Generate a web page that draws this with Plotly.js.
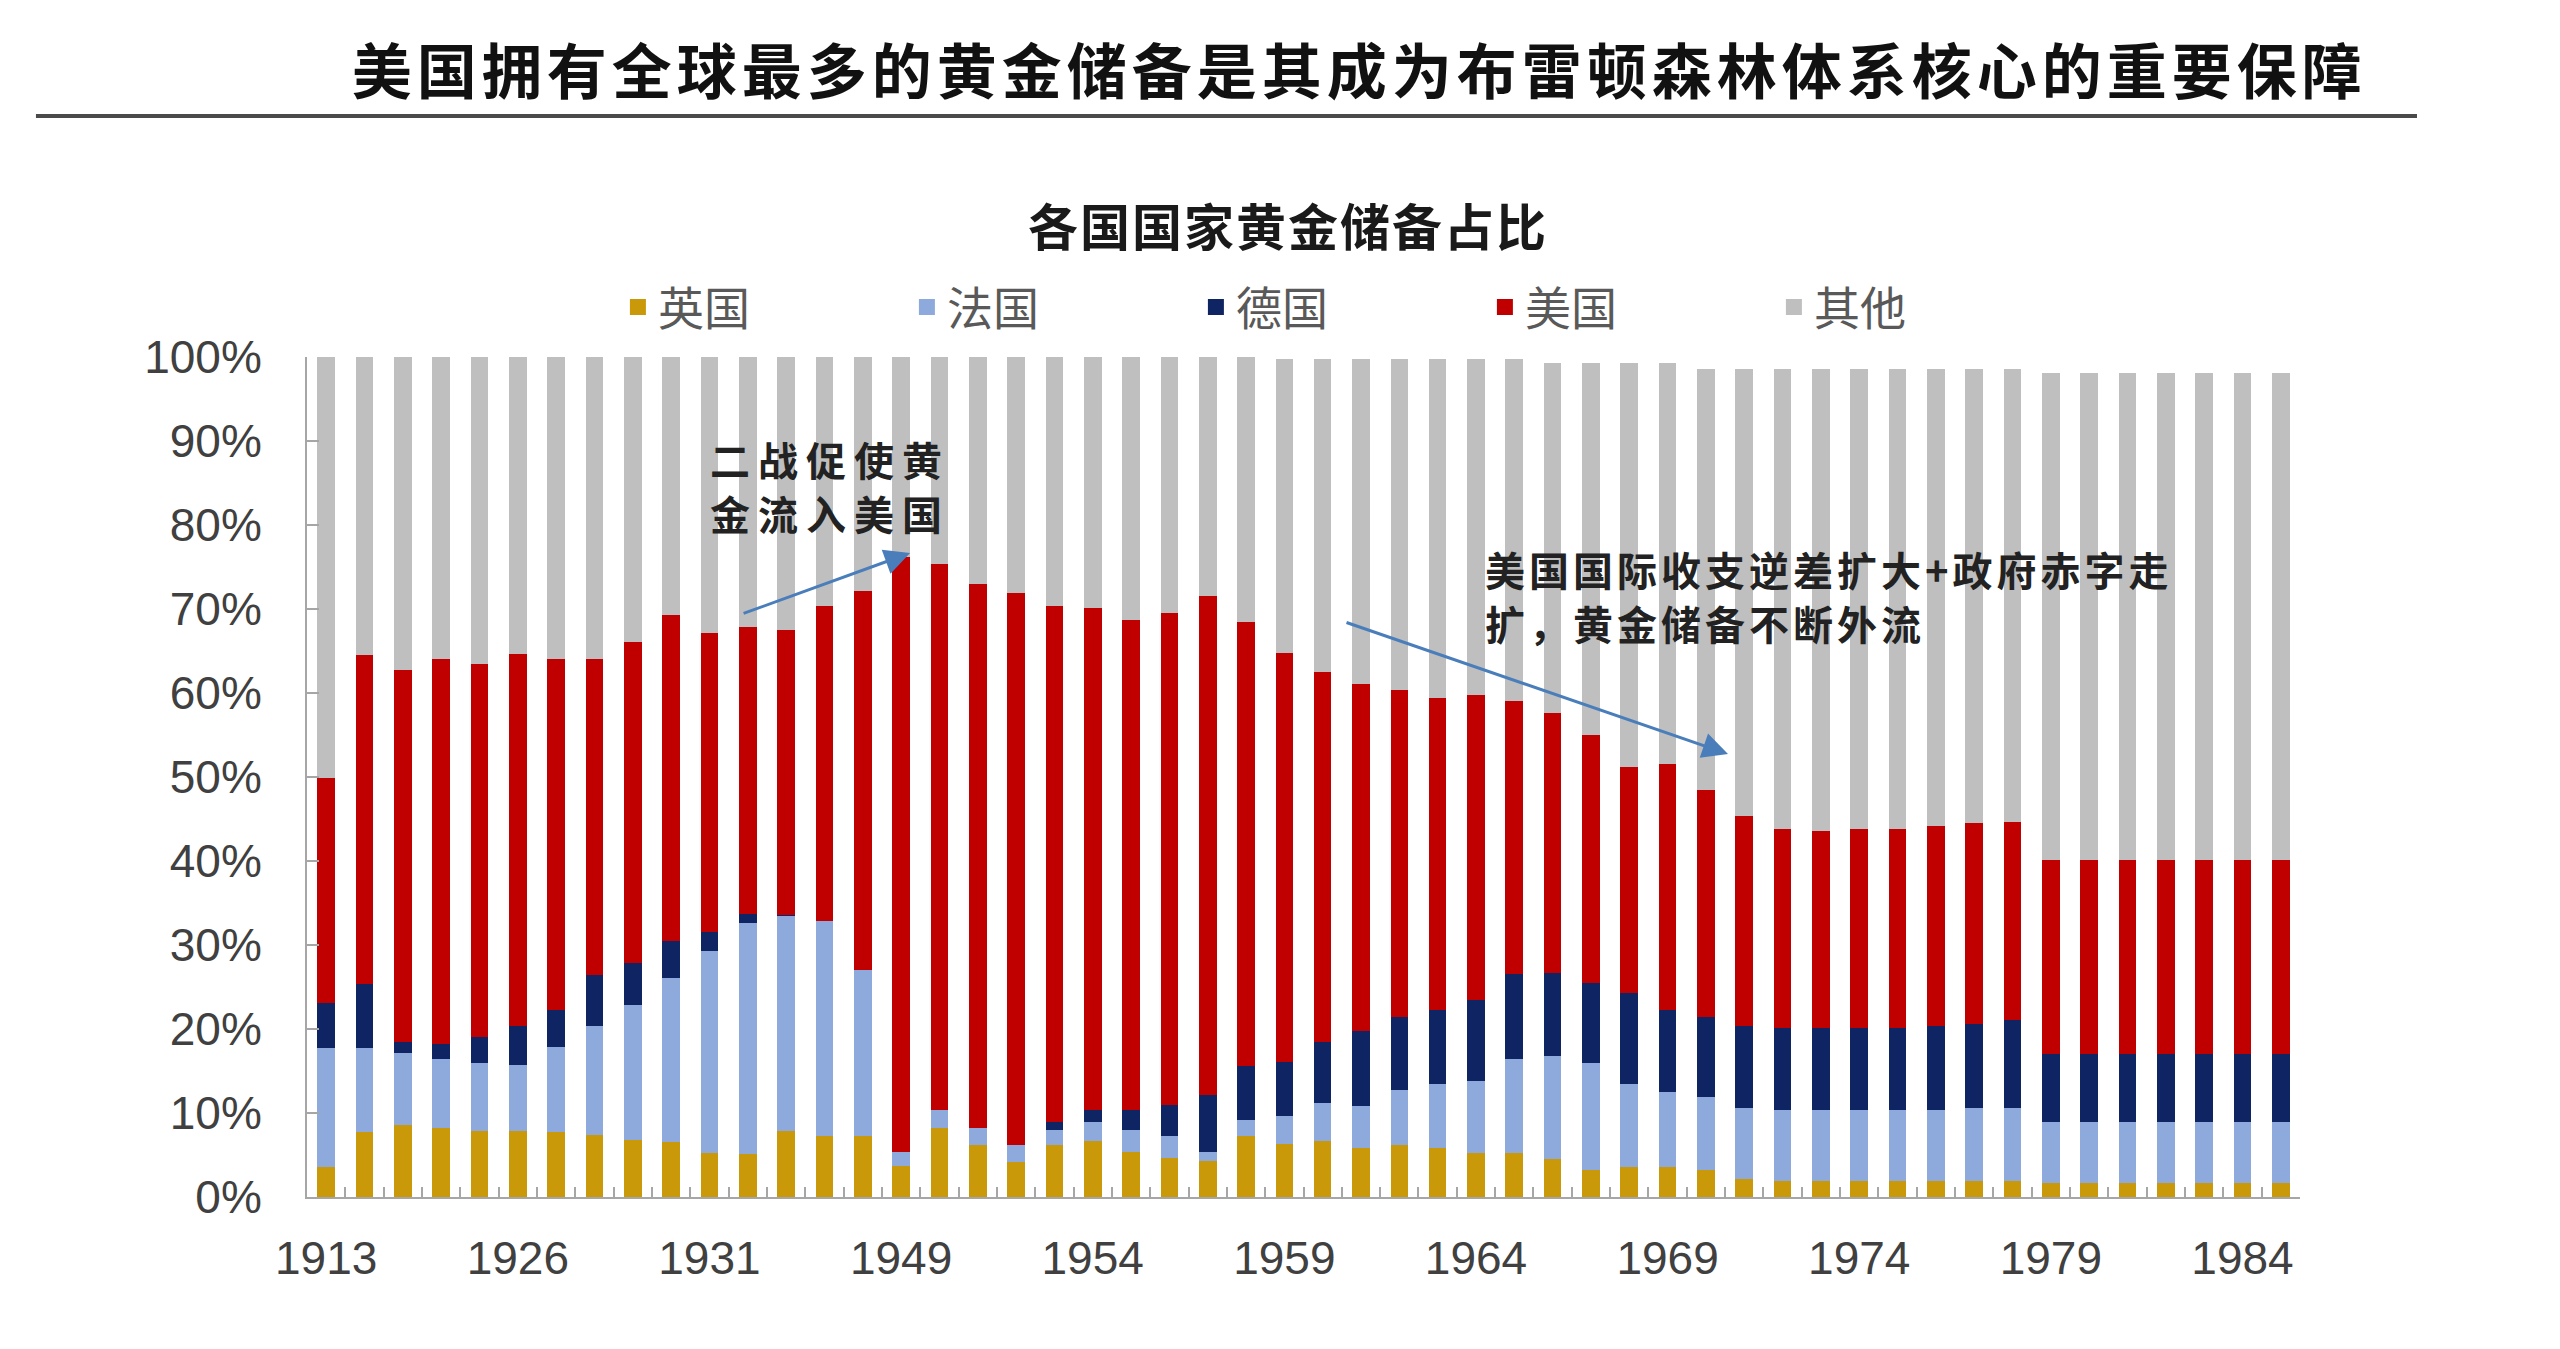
<!DOCTYPE html>
<html>
<head>
<meta charset="utf-8">
<script src="https://cdn.plot.ly/plotly-3.0.1.min.js"></script>
<style>
html,body{margin:0;padding:0;background:#fff;}
#chart{width:2560px;height:1349px;}
.gtitle{letter-spacing:5px;}
</style>
</head>
<body>
<div id="chart"></div>
<script>
// Categories (years)
const years = ['1913','1922','1923','1924','1925','1926','1927','1928','1929','1930',
  '1931','1932','1933','1934','1935','1949','1950','1951','1952','1953',
  '1954','1955','1956','1957','1958','1959','1960','1961','1962','1963',
  '1964','1965','1966','1967','1968','1969','1970','1971','1972','1973',
  '1974','1975','1976','1977','1978','1979','1980','1981','1982','1983',
  '1984','1985'];
// Tick labels shown on the x axis
const labelYears = ['1913','1926','1931','1949','1954','1959','1964','1969','1974','1979','1984'];

// Shares of world gold reserves (%)
const uk = [3.6,7.7,8.6,8.2,7.9,7.9,7.7,7.4,6.8,6.6,
  5.2,5.1,7.8,7.3,7.3,3.7,8.2,6.2,4.2,6.2,
  6.7,5.4,4.7,4.3,7.3,6.3,6.7,5.8,6.2,5.8,
  5.2,5.2,4.5,3.2,3.6,3.6,3.2,2.1,1.9,1.9,
  1.9,1.9,1.9,1.9,1.9,1.7,1.7,1.7,1.7,1.7,
  1.7,1.7];
const france = [14.1,10.0,8.5,8.2,8.0,7.8,10.2,12.9,16.1,19.5,
  24.1,27.5,25.6,25.5,19.7,1.7,2.1,2.0,2.0,1.8,
  2.2,2.6,2.6,1.1,1.9,3.4,4.5,5.0,6.5,7.7,
  8.6,11.2,12.3,12.7,9.8,8.9,8.7,8.5,8.5,8.5,
  8.5,8.5,8.5,8.7,8.7,7.2,7.2,7.2,7.2,7.2,
  7.2,7.2];
const germany = [5.4,7.6,1.4,1.8,3.1,4.6,4.4,6.1,4.9,4.4,
  2.2,1.1,0.2,0,0,0,0,0,0,0.9,
  1.5,2.3,3.7,6.7,6.4,6.4,7.3,9.0,8.7,8.8,
  9.7,10.1,9.9,9.6,10.9,9.8,9.5,9.7,9.7,9.7,
  9.7,9.7,9.9,10.0,10.5,8.1,8.1,8.1,8.1,8.1,
  8.1,8.1];
const usa = [26.8,39.2,44.2,45.8,44.4,44.3,41.8,37.6,38.3,38.8,
  35.6,34.1,33.9,37.6,45.2,70.8,65.1,64.8,65.7,61.5,
  59.7,58.4,58.5,59.4,52.9,48.7,44.0,41.3,38.9,37.1,
  36.3,32.5,30.9,29.5,26.9,29.3,27.0,25.0,23.7,23.5,
  23.7,23.7,23.9,23.9,23.6,23.1,23.1,23.1,23.1,23.1,
  23.1,23.1];
const others = [50.1,35.5,37.3,36.0,36.6,35.4,35.9,36.0,33.9,30.7,
  32.9,32.2,32.5,29.6,27.8,23.8,24.6,27.0,28.1,29.6,
  29.9,31.3,30.5,28.5,31.5,35.0,37.3,38.7,39.5,40.4,
  40.0,40.8,41.7,44.3,48.1,47.7,50.2,53.3,54.8,55.0,
  54.8,54.8,54.4,54.1,53.9,58.0,58.0,58.0,58.0,58.0,
  58.0,58.0];

const seriesNames = ['英国','法国','德国','美国','其他'];
const seriesData = [uk, france, germany, usa, others];
const seriesColors = ['#C9990A','#8EAADC','#0F2462','#C00000','#BFBFBF'];

const barTraces = seriesNames.map((n,k) => ({
  type:'bar', name:n, x:years, y:seriesData[k], legendgroup:n, showlegend:false,
  marker:{color:seriesColors[k], line:{width:0}},
  hovertemplate:'%{x} '+n+': %{y}%<extra></extra>'
}));
// legend-only entries with larger square markers
const legendTraces = seriesNames.map((n,k) => ({
  type:'scatter', mode:'markers', name:n, legendgroup:n, x:[years[0]], y:[null],
  marker:{symbol:'square', size:16, color:seriesColors[k]}, hoverinfo:'skip'
}));

const tickText = years.map(y => labelYears.includes(y) ? y : '');

const cjk = 'Noto Sans CJK SC';
const layout = {
  width:2560, height:1349,
  margin:{l:307, r:260, t:357, b:152},
  paper_bgcolor:'#ffffff', plot_bgcolor:'#ffffff',
  barmode:'stack', bargap:0.54,
  title:{
    text:'美国拥有全球最多的黄金储备是其成为布雷顿森林体系核心的重要保障',
    font:{family:cjk, size:60, color:'#111111', weight:700},
    xref:'container', x:0.531, xanchor:'center',
    yref:'container', y:0.946, yanchor:'middle'
  },
  xaxis:{
    type:'category', categoryorder:'array', categoryarray:years,
    range:[-0.5, years.length-0.5],
    tickmode:'array', tickvals:years, ticktext:tickText,
    tickson:'boundaries', ticks:'inside', ticklen:10, tickwidth:2, tickcolor:'#A6A6A6',
    showline:true, linecolor:'#A6A6A6', linewidth:2,
    showgrid:false, zeroline:false,
    tickfont:{family:'Liberation Sans', size:46, color:'#404040'},
    ticklabelstandoff:20, tickangle:0
  },
  yaxis:{
    range:[0,100], tickmode:'linear', tick0:0, dtick:10, ticksuffix:'%',
    ticks:'inside', ticklen:12, tickwidth:2, tickcolor:'#A6A6A6',
    showline:true, linecolor:'#A6A6A6', linewidth:2,
    showgrid:false, zeroline:false,
    tickfont:{family:'Liberation Sans', size:46, color:'#404040'},
    ticklabelstandoff:34
  },
  legend:{
    orientation:'h', traceorder:'normal',
    x:0.156, xanchor:'left', y:1.0595, yanchor:'middle',
    font:{family:cjk, size:46, color:'#595959'},
    entrywidth:244, entrywidthmode:'pixels', itemsizing:'trace',
    bgcolor:'rgba(0,0,0,0)'
  },
  shapes:[{
    type:'line', xref:'paper', yref:'paper',
    x0:-0.136, x1:1.0587, y0:1.2869, y1:1.2869,
    line:{color:'#4A4A4A', width:4}
  }],
  annotations:[
    {xref:'paper', yref:'paper', x:0.492, y:1.158, xanchor:'center', yanchor:'middle',
     text:'各国国家黄金储备占比', showarrow:false,
     font:{family:cjk, size:50, color:'#1A1A1A', weight:700}},
    {xref:'paper', yref:'paper', x:0.2017, y:0.8786, xanchor:'left', yanchor:'middle', align:'left',
     text:'二战促使黄', showarrow:false, borderpad:0,
     font:{family:cjk, size:40, color:'#222222', weight:700}},
    {xref:'paper', yref:'paper', x:0.2017, y:0.8143, xanchor:'left', yanchor:'middle', align:'left',
     text:'金流入美国', showarrow:false, borderpad:0,
     font:{family:cjk, size:40, color:'#222222', weight:700}},
    {xref:'paper', yref:'paper', x:0.5906, y:0.7476, xanchor:'left', yanchor:'middle', align:'left',
     text:'美国国际收支逆差扩大+政府赤字走', showarrow:false, borderpad:0,
     font:{family:cjk, size:40, color:'#222222', weight:700}},
    {xref:'paper', yref:'paper', x:0.5906, y:0.6834, xanchor:'left', yanchor:'middle', align:'left',
     text:'扩，黄金储备不断外流', showarrow:false, borderpad:0,
     font:{family:cjk, size:40, color:'#222222', weight:700}},
    {xref:'paper', yref:'paper', x:0.3026, y:0.7667, text:'', showarrow:true,
     ax:-168, ay:61, arrowhead:2, arrowsize:1.7, arrowwidth:3, arrowcolor:'#4A7EBB', standoff:0},
    {xref:'paper', yref:'paper', x:0.7130, y:0.5274, text:'', showarrow:true,
     ax:-383, ay:-132, arrowhead:2, arrowsize:1.7, arrowwidth:3, arrowcolor:'#4A7EBB', standoff:0}
  ]
};

const spacing = [2, 8, 8, 4, 4];
Plotly.newPlot('chart', barTraces.concat(legendTraces), layout, {displayModeBar:false, staticPlot:true}).then(() => {
  const texts = document.querySelectorAll('.annotation-text');
  texts.forEach((t,i) => { if (spacing[i] !== undefined) t.style.letterSpacing = spacing[i] + 'px'; });
});
</script>
</body>
</html>
